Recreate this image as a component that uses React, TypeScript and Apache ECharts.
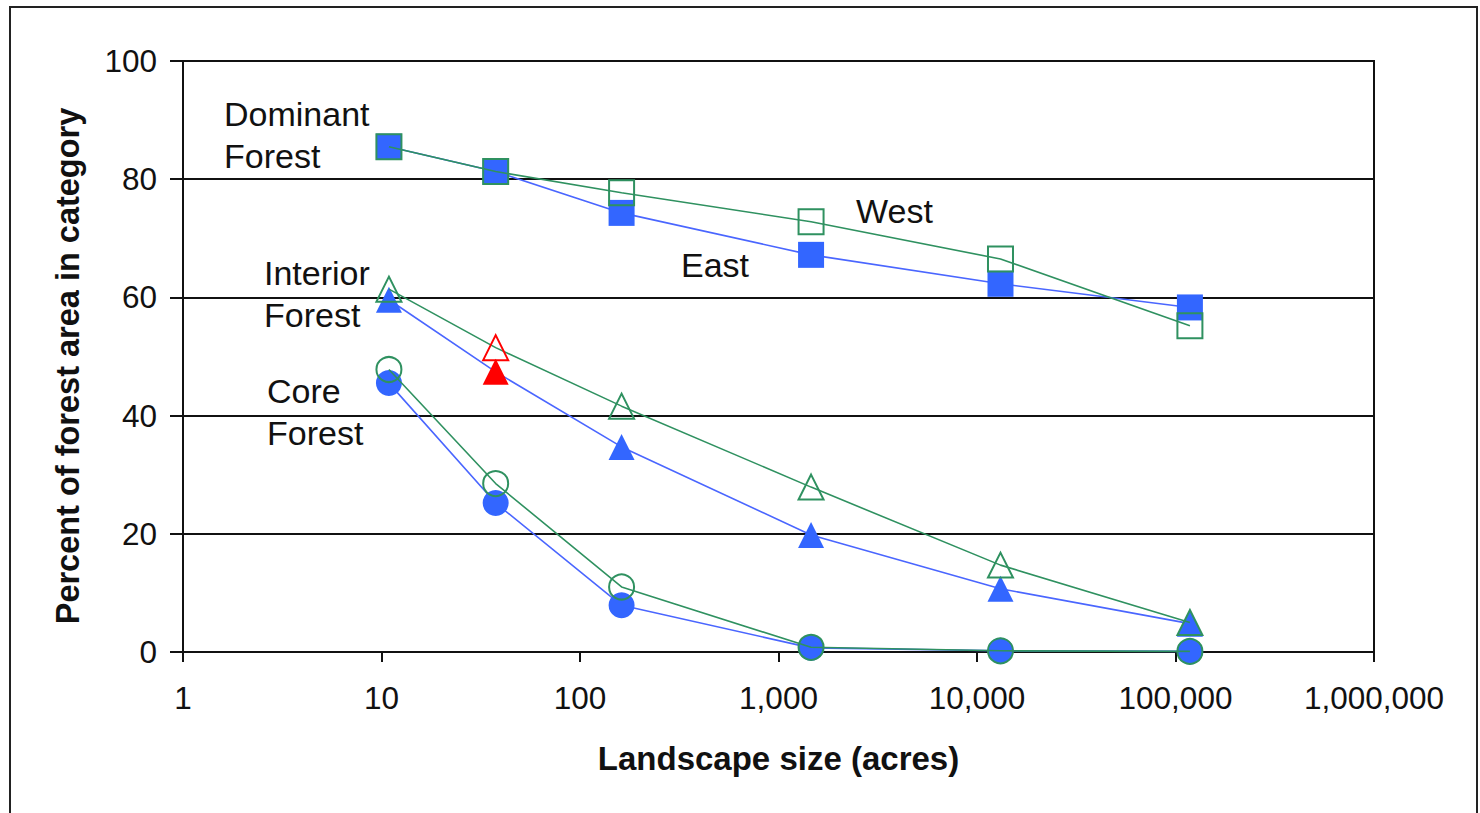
import React, { useEffect, useRef } from "react";
import * as echarts from "echarts";

// Landscape sizes (acres)
const sizes = [10.9, 37.6, 162, 1459, 13132, 118190];
const xTickValues = [1, 10, 100, 1000, 10000, 100000, 1000000];
const yTickValues = [0, 20, 40, 60, 80, 100];

// Percent of forest area in category
const dominantEast = [85.5, 81.3, 74.3, 67.2, 62.3, 58.3];
const dominantWest = [85.5, 81.3, 77.7, 72.8, 66.5, 55.2];
const interiorEast = [59.6, 47.4, 34.7, 19.8, 10.7, 4.8];
const interiorWest = [61.4, 51.5, 41.6, 27.9, 14.7, 5.0];
const coreEast = [45.5, 25.2, 7.9, 0.7, 0.2, 0.1];
const coreWest = [47.8, 28.5, 11.0, 0.8, 0.2, 0.1];
const highlightIndex = 1; // red point in the Interior Forest series

const BLUE = "#3366ff";
const BLUE_LINE = "#4a66ff";
const GREEN = "#2f9160";
const RED = "#ff0000";
const FONT = '"Liberation Sans", Arial, sans-serif';

function pairs(values: number[]) {
  return values.map((v, i) => [sizes[i], v]);
}

export default function App() {
  const ref = useRef<HTMLDivElement>(null);
  useEffect(() => {
    if (!ref.current) return;
    const chart = echarts.init(ref.current, null, { renderer: "svg" });

    const eastSeries = (name: string, values: number[], symbol: string, highlight = false) => ({
      name,
      type: "line",
      symbol,
      symbolSize: 26,
      z: 2,
      lineStyle: { color: BLUE_LINE, width: 1.6 },
      itemStyle: { color: BLUE, borderWidth: 0 },
      data: pairs(values).map((p, i) =>
        highlight && i === highlightIndex
          ? { value: p, itemStyle: { color: RED, borderWidth: 0 } }
          : p
      ),
    });
    const westSeries = (name: string, values: number[], symbol: string, highlight = false) => ({
      name,
      type: "line",
      symbol,
      symbolSize: 25,
      z: 3,
      lineStyle: { color: GREEN, width: 1.6 },
      itemStyle: { color: "rgba(0,0,0,0)", borderColor: GREEN, borderWidth: 2 },
      data: pairs(values).map((p, i) =>
        highlight && i === highlightIndex
          ? { value: p, itemStyle: { color: "rgba(0,0,0,0)", borderColor: RED, borderWidth: 2 } }
          : p
      ),
    });

    const labelText = (text: string, x: number, y: number) => ({
      type: "text",
      x,
      y,
      style: { text, font: `34px ${FONT}`, fill: "#111", verticalAlign: "middle" },
    });

    chart.setOption({
      animation: false,
      backgroundColor: "#fff",
      grid: {
        left: 183,
        right: 106,
        top: 61,
        bottom: 161,
        show: true,
        borderColor: "#111",
        borderWidth: 2,
      },
      xAxis: {
        type: "log",
        logBase: 10,
        min: 1,
        max: 1000000,
        splitNumber: 6,
        name: "Landscape size (acres)",
        nameLocation: "middle",
        nameGap: 90,
        nameTextStyle: { fontFamily: FONT, fontSize: 33, fontWeight: "bold", color: "#111" },
        axisLine: { show: true, lineStyle: { color: "#111", width: 2 } },
        axisTick: { show: true, length: 10, lineStyle: { color: "#111", width: 2 }, customValues: xTickValues },
        axisLabel: {
          fontFamily: FONT,
          fontSize: 31.5,
          color: "#111",
          margin: 30,
          customValues: xTickValues,
          formatter: (v: number) => Number(v).toLocaleString("en-US"),
        },
        splitLine: { show: false },
      },
      yAxis: {
        type: "value",
        min: 0,
        max: 100,
        interval: 20,
        axisLine: { show: true, lineStyle: { color: "#111", width: 2 } },
        axisTick: { show: true, length: 13, lineStyle: { color: "#111", width: 2 }, customValues: yTickValues },
        axisLabel: { fontFamily: FONT, fontSize: 31.5, color: "#111", margin: 26, customValues: yTickValues },
        splitLine: { show: true, lineStyle: { color: "#111", width: 2 } },
      },
      series: [
        eastSeries("Dominant East", dominantEast, "rect"),
        eastSeries("Interior East", interiorEast, "triangle", true),
        eastSeries("Core East", coreEast, "circle"),
        westSeries("Dominant West", dominantWest, "rect"),
        westSeries("Interior West", interiorWest, "triangle", true),
        westSeries("Core West", coreWest, "circle"),
      ],
      graphic: [
        {
          type: "rect",
          shape: { x: 10, y: 7, width: 1467, height: 830 },
          style: { fill: "none", stroke: "#222", lineWidth: 2 },
          silent: true,
        },
        {
          type: "text",
          x: 68,
          y: 366,
          rotation: Math.PI / 2,
          style: {
            text: "Percent of forest area in category",
            font: `bold 32.5px ${FONT}`,
            fill: "#111",
            align: "center",
            verticalAlign: "middle",
          },
        },
        labelText("Dominant", 224, 114),
        labelText("Forest", 224, 156),
        labelText("Interior", 264, 273),
        labelText("Forest", 264, 315),
        labelText("Core", 267, 391),
        labelText("Forest", 267, 433),
        labelText("West", 856, 211),
        labelText("East", 681, 265),
      ],
    });
    return () => chart.dispose();
  }, []);
  return (
    <div
      ref={ref}
      style={{ position: "fixed", left: 0, top: 0, width: 1480, height: 813, background: "#fff" }}
    />
  );
}
